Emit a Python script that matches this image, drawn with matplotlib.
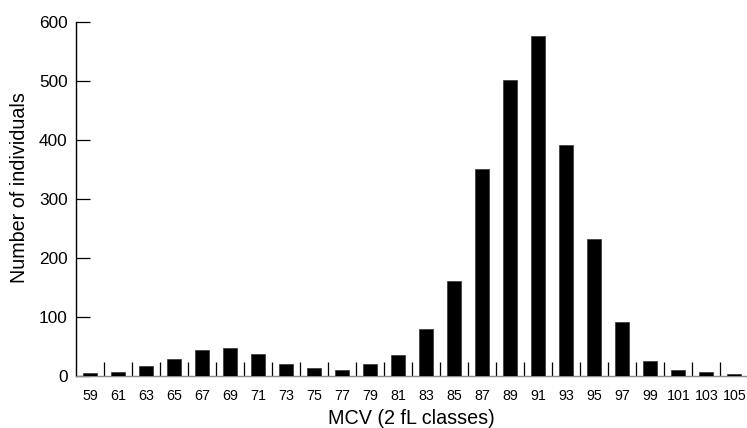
import matplotlib
matplotlib.use("Agg")
import matplotlib.pyplot as plt
import numpy as np

plt.rcParams['font.family'] = ['Liberation Sans', 'DejaVu Sans']

mcv_classes = [59, 61, 63, 65, 67, 69, 71, 73, 75, 77, 79, 81,
               83, 85, 87, 89, 91, 93, 95, 97, 99, 101, 103, 105]
counts = [5, 6, 17, 28, 44, 48, 38, 21, 14, 10, 21, 35,
          79, 161, 351, 501, 577, 391, 233, 92, 25, 10, 6, 3]
y_ticks = [0, 100, 200, 300, 400, 500, 600]

fig = plt.figure(figsize=(7.47, 4.28), dpi=100)
ax = fig.add_axes([76/747, 52/428, 671/747, 354/428])

x = np.arange(len(mcv_classes))
ax.bar(x, counts, width=0.5, color='black', edgecolor='#333333', linewidth=0.5, zorder=3)

ax.set_xlim(-0.5, 23.45)
ax.set_ylim(0, 600)

for s in ['top', 'right']:
    ax.spines[s].set_visible(False)
ax.spines['left'].set_color('black')
ax.spines['left'].set_linewidth(1.0)
ax.spines['bottom'].set_color('#8a8a8a')
ax.spines['bottom'].set_linewidth(1.0)

ax.set_yticks(y_ticks)
ax.set_yticklabels([str(v) for v in y_ticks])
ax.tick_params(axis='y', direction='in', length=10, width=0.9, color='black',
               labelsize=12.4, pad=6)

ax.set_xticks(x)
ax.set_xticklabels([str(v) for v in mcv_classes])
ax.set_xticks(x[:-1] + 0.5, minor=True)
ax.tick_params(axis='x', which='major', length=0, labelsize=10.3, pad=9)
ax.tick_params(axis='x', which='minor', direction='in', length=10, width=0.9, color='black')

ax.set_xlabel('MCV (2 fL classes)', fontsize=14.2)
ax.xaxis.label.set_va('center')
ax.xaxis.set_label_coords(0.5, (376 - 418) / 354)

ax.set_ylabel('Number of individuals', fontsize=14.2)
ax.yaxis.label.set_va('center')
ax.yaxis.label.set_ha('center')
ax.yaxis.set_label_coords((20 - 76) / 671, (376 - 188) / 354)

fig.savefig('out.png', dpi=100)
